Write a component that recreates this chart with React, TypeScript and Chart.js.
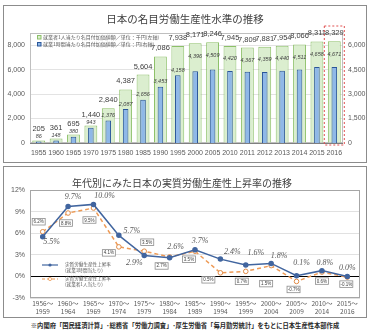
import React, { useEffect, useRef } from "react";
import { Chart, registerables } from "chart.js";
Chart.register(...registerables);

// ---------- data: top chart ----------
const years = ["1955","1960","1965","1970","1975","1980","1985","1990","1995","2000","2005","2010","2011","2012","2013","2014","2015","2016"];
const perWorker = [205,361,695,1440,2840,4387,5604,7086,7938,8171,8246,7945,7809,7881,7954,8066,8311,8329];
const perHour = [86,148,380,943,1376,2087,2656,3453,4158,4396,4509,4420,4367,4359,4440,4511,4658,4671];
const leftTicks = [0,2000,4000,6000,8000];
const rightTicks = [0,1500,3000,4500,6000];
const topTitle = "日本の名目労働生産性水準の推移";
const topLegend = ["就業者1人当たり名目付加価値額／単位：千円(左軸)", "就業1時間当たり名目付加価値額／単位：円(右軸)"];

// ---------- data: bottom chart ----------
const periods = [["1956～","1959"],["1960～","1964"],["1965～","1969"],["1970～","1974"],["1975～","1979"],["1980～","1984"],["1985～","1989"],["1990～","1994"],["1995～","1999"],["2000～","2004"],["2005～","2009"],["2010～","2014"],["2015～","2016"]];
const hourlyGrowth = [5.5,9.7,10.0,5.7,2.9,2.6,3.7,2.4,1.6,1.8,0.1,0.8,0.0];
const workerGrowth = [6.2,8.8,9.5,4.1,3.5,2.7,3.5,0.5,0.7,1.5,-0.7,0.6,-0.1];
const growthTicks = [-3,0,3,6,9,12];
const bottomTitle = "年代別にみた日本の実質労働生産性上昇率の推移";
const legendMain = "実質労働生産性上昇率";
const legendSub = ["(就業1時間当たり)", "(就業者1人当たり)"];
const footer = "※内閣府「国民経済計算」･総務省「労働力調査」･厚生労働省「毎月勤労統計」をもとに日本生産性本部作成";

// label placement (layout only)
const blueLabelOffsets = [[9,5],[5,-10],[11,-9],[13,-4],[-10,7],[6,-11],[5,-9],[12,-7],[10,-12],[8,-8],[5,-13],[3,-8],[0,-9]];
const orangeBoxOffsets = [[-4,-10],[-2,10],[-4,12],[-10,6],[3,-9],[-8,9],[-6,8],[-12,7],[-4,10],[-5,18],[-3,8],[0,9],[-1,7]];

const FONT = "'Noto Sans CJK JP', 'Noto Sans', sans-serif";
const NUMFONT = "'Liberation Sans Narrow', 'Liberation Sans', 'Noto Sans', sans-serif";
const fmt = (v: number) => v.toLocaleString("en-US");

function TopChart() {
  const ref = useRef<HTMLCanvasElement>(null);
  useEffect(() => {
    const deco = {
      id: "topDeco",
      beforeDatasetsDraw(chart: any) {
        const { ctx, chartArea: a } = chart;
        ctx.save();
        ctx.strokeStyle = "#bfbfbf";
        ctx.lineWidth = 1;
        ctx.strokeRect(a.left + 0.5, a.top + 0.5, a.right - a.left - 1, a.bottom - a.top - 1);
        ctx.restore();
      },
      afterDatasetsDraw(chart: any) {
        const { ctx, chartArea: a } = chart;
        const g = chart.getDatasetMeta(0).data;
        const b = chart.getDatasetMeta(1).data;
        ctx.save();
        ctx.textAlign = "center";
        ctx.textBaseline = "middle";
        perWorker.forEach((v, i) => {
          const blueY = i >= 9 ? g[i].y + 13 : b[i].y - 5;
          const greenY = Math.min(g[i].y - 8, blueY - 8);
          ctx.fillStyle = "#404040";
          ctx.font = `7.5px ${NUMFONT}`;
          ctx.fillText(fmt(v), g[i].x, greenY);
          ctx.font = `italic 5.5px ${NUMFONT}`;
          ctx.fillStyle = "#404040";
          ctx.fillText(fmt(perHour[i]), b[i].x, blueY);
        });
        // red dashed box around last category
        const last = g[years.length - 1];
        ctx.setLineDash([2, 2]);
        ctx.strokeStyle = "#e05050";
        ctx.lineWidth = 1;
        ctx.strokeRect(last.x - 10, a.top - 7, 20, a.bottom - a.top + 9);
        ctx.setLineDash([]);
        // legend
        const lx = a.left + 7;
        const rows = [a.top + 4, a.top + 11];
        const fills = ["#dbeecf", "#8fb8e8"];
        const strokes = ["#8cc068", "#2a5699"];
        ctx.textAlign = "left";
        ctx.font = `5px ${FONT}`;
        rows.forEach((y, k) => {
          ctx.fillStyle = fills[k];
          ctx.fillRect(lx, y - 2, 4, 4);
          ctx.strokeStyle = strokes[k];
          ctx.strokeRect(lx + 0.5, y - 1.5, 3.5, 3.5);
          ctx.fillStyle = "#595959";
          ctx.fillText(topLegend[k], lx + 6, y);
        });
        ctx.restore();
      },
    };
    const chart = new Chart(ref.current as HTMLCanvasElement, {
      type: "bar",
      data: {
        labels: years,
        datasets: [
          {
            label: topLegend[0],
            data: perWorker,
            yAxisID: "y",
            backgroundColor: "#dbeecf",
            borderColor: "#8cc068",
            borderWidth: 1,
            grouped: false,
            order: 2,
            categoryPercentage: 1,
            barPercentage: 0.74,
          } as any,
          {
            label: topLegend[1],
            data: perHour,
            yAxisID: "y1",
            backgroundColor: "#8fb8e8",
            borderColor: "#2a5699",
            borderWidth: 1,
            grouped: false,
            order: 1,
            categoryPercentage: 1,
            barPercentage: 0.32,
          } as any,
        ],
      },
      options: {
        responsive: false,
        animation: false,
        layout: { padding: 0 },
        plugins: {
          legend: { display: false },
          tooltip: { enabled: false },
          title: {
            display: true,
            text: topTitle,
            color: "#404040",
            font: { size: 10.5, family: FONT, weight: "normal" },
            padding: { top: 7, bottom: 7.4 },
          },
        },
        scales: {
          x: {
            offset: true,
            grid: { display: false, drawTicks: false },
            border: { display: false },
            ticks: { font: { size: 7, family: NUMFONT }, color: "#595959", padding: 6, maxRotation: 0, autoSkip: false },
            afterFit: (s: any) => { s.height = 19; },
          },
          y: {
            position: "left",
            min: 0,
            max: 9000,
            afterBuildTicks: (s: any) => { s.ticks = leftTicks.map((v) => ({ value: v })); },
            ticks: { callback: (v: any) => fmt(Number(v)), font: { size: 7, family: NUMFONT }, color: "#595959", padding: 5 },
            grid: { color: (c: any) => (c.tick && c.tick.value === 0 ? "#7f7f7f" : "#e3e3e3"), drawTicks: false },
            border: { display: false },
            afterFit: (s: any) => { s.width = 26; },
          },
          y1: {
            position: "right",
            min: 0,
            max: 6750,
            afterBuildTicks: (s: any) => { s.ticks = rightTicks.map((v) => ({ value: v })); },
            ticks: { callback: (v: any) => fmt(Number(v)), font: { size: 7, family: NUMFONT }, color: "#595959", padding: 5 },
            grid: { display: false, drawTicks: false },
            border: { display: false },
            afterFit: (s: any) => { s.width = 23; },
          },
        },
      } as any,
      plugins: [deco],
    });
    return () => chart.destroy();
  }, []);
  return <canvas ref={ref} width={362} height={156} style={{ display: "block" }} />;
}

function BottomChart() {
  const ref = useRef<HTMLCanvasElement>(null);
  useEffect(() => {
    const deco = {
      id: "bottomDeco",
      beforeDatasetsDraw(chart: any) {
        const { ctx, chartArea: a } = chart;
        ctx.save();
        ctx.strokeStyle = "#a6a6a6";
        ctx.lineWidth = 1;
        ctx.strokeRect(a.left + 0.5, a.top + 0.5, a.right - a.left - 1, a.bottom - a.top - 1);
        ctx.restore();
      },
      afterDatasetsDraw(chart: any) {
        const { ctx, chartArea: a } = chart;
        const bl = chart.getDatasetMeta(0).data;
        const or = chart.getDatasetMeta(1).data;
        ctx.save();
        ctx.textAlign = "center";
        ctx.textBaseline = "middle";
        // blue labels
        ctx.font = `italic 8px 'Liberation Serif', 'DejaVu Serif', serif`;
        ctx.fillStyle = "#595959";
        hourlyGrowth.forEach((v, i) => {
          const [dx, dy] = blueLabelOffsets[i];
          ctx.fillText(v.toFixed(1) + "%", bl[i].x + dx, bl[i].y + dy);
        });
        // orange boxed labels
        ctx.font = `4.5px ${NUMFONT}`;
        workerGrowth.forEach((v, i) => {
          const [dx, dy] = orangeBoxOffsets[i];
          const cx = or[i].x + dx;
          const cy = or[i].y + dy;
          const w = 13;
          const h = 6.5;
          ctx.fillStyle = "#ffffff";
          ctx.fillRect(cx - w / 2, cy - h / 2, w, h);
          ctx.strokeStyle = "#8c8c8c";
          ctx.lineWidth = 0.8;
          ctx.strokeRect(cx - w / 2, cy - h / 2, w, h);
          ctx.fillStyle = "#404040";
          ctx.fillText(v.toFixed(1) + "%", cx, cy + 0.3);
        });
        // legend
        const x0 = a.left + 12;
        const x1 = a.left + 28;
        const rows = [a.top + 75, a.top + 89];
        ctx.textAlign = "left";
        rows.forEach((y, k) => {
          ctx.lineWidth = 1.2;
          if (k === 0) {
            ctx.strokeStyle = "#41659f";
            ctx.setLineDash([]);
          } else {
            ctx.strokeStyle = "#ee9a55";
            ctx.setLineDash([3, 2]);
          }
          ctx.beginPath();
          ctx.moveTo(x0, y);
          ctx.lineTo(x1, y);
          ctx.stroke();
          ctx.setLineDash([]);
          ctx.beginPath();
          ctx.arc((x0 + x1) / 2, y, 1.6, 0, Math.PI * 2);
          if (k === 0) {
            ctx.fillStyle = "#41659f";
            ctx.fill();
          } else {
            ctx.fillStyle = "#ffffff";
            ctx.fill();
            ctx.lineWidth = 0.8;
            ctx.stroke();
          }
          ctx.fillStyle = "#595959";
          ctx.font = `4.6px ${FONT}`;
          ctx.fillText(legendMain, x1 + 7, y - 0.5);
          ctx.fillText(legendSub[k], x1 + 7, y + 5);
        });
        ctx.restore();
      },
    };
    const chart = new Chart(ref.current as HTMLCanvasElement, {
      type: "line",
      data: {
        labels: periods,
        datasets: [
          {
            label: legendMain + legendSub[0],
            data: hourlyGrowth,
            borderColor: "#41659f",
            backgroundColor: "#41659f",
            borderWidth: 1.5,
            pointRadius: 2,
            pointBackgroundColor: "#41659f",
            pointBorderColor: "#41659f",
            tension: 0,
          },
          {
            label: legendMain + legendSub[1],
            data: workerGrowth,
            borderColor: "#ee9a55",
            backgroundColor: "#ffffff",
            borderWidth: 1.5,
            borderDash: [4, 3],
            pointRadius: 2.3,
            pointBackgroundColor: "#ffffff",
            pointBorderColor: "#e08a45",
            pointBorderWidth: 1,
            tension: 0,
          },
        ],
      },
      options: {
        responsive: false,
        animation: false,
        layout: { padding: { right: 6, left: 0, top: 0, bottom: 0 } },
        plugins: {
          legend: { display: false },
          tooltip: { enabled: false },
          title: {
            display: true,
            text: bottomTitle,
            color: "#404040",
            font: { size: 10, family: FONT, weight: "normal" },
            padding: { top: 10, bottom: 1 },
          },
        },
        scales: {
          x: {
            offset: true,
            grid: { display: false, drawTicks: false },
            border: { display: false },
            ticks: { font: { size: 6.5, family: FONT, lineHeight: 1.25 }, color: "#595959", padding: 1, maxRotation: 0, autoSkip: false },
            afterFit: (s: any) => { s.height = 19; },
          },
          y: {
            min: -3,
            max: 12,
            afterBuildTicks: (s: any) => { s.ticks = growthTicks.map((v) => ({ value: v })); },
            ticks: { callback: (v: any) => v + "%", font: { size: 7, family: NUMFONT }, color: "#595959", padding: 5 },
            grid: {
              color: (c: any) => (c.tick && c.tick.value === 0 ? "#000000" : "#d9d9d9"),
              lineWidth: (c: any) => (c.tick && c.tick.value === 0 ? 1 : 0.8),
              drawTicks: false,
            },
            border: { display: false },
            afterFit: (s: any) => { s.width = 26; },
          },
        },
      } as any,
      plugins: [deco],
    });
    return () => chart.destroy();
  }, []);
  return <canvas ref={ref} width={362} height={150} style={{ display: "block" }} />;
}

export default function App() {
  return (
    <div style={{ position: "absolute", left: 0, top: 0, width: 370, height: 335, background: "#ffffff", overflow: "hidden" }}>
      <div style={{ position: "absolute", left: 3, top: 5, width: 362, height: 156, border: "1px solid #8c8c8c" }}>
        <TopChart />
      </div>
      <div style={{ position: "absolute", left: 3, top: 166, width: 362, height: 150, border: "1px solid #8c8c8c" }}>
        <BottomChart />
      </div>
      <div
        style={{
          position: "absolute",
          left: 0,
          top: 322,
          width: 370,
          textAlign: "center",
          fontSize: 6.3,
          lineHeight: "8px",
          fontWeight: "bold",
          color: "#262626",
          fontFamily: FONT,
          whiteSpace: "nowrap",
        }}
      >
        {footer}
      </div>
    </div>
  );
}
